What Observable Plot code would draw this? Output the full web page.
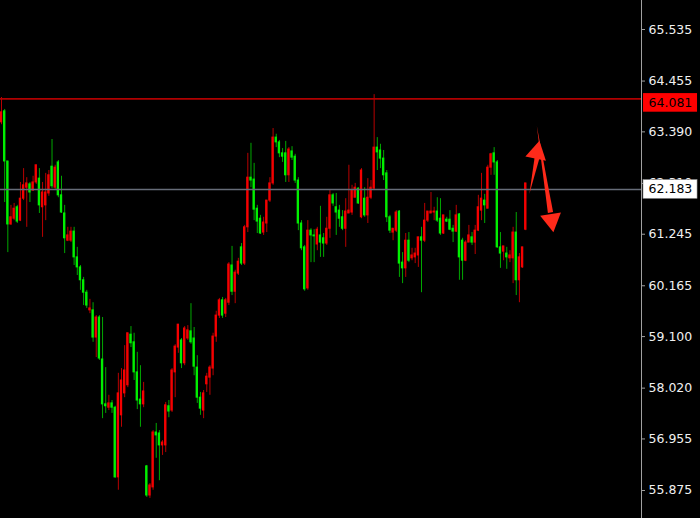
<!DOCTYPE html>
<html><head><meta charset="utf-8">
<script src="https://cdn.jsdelivr.net/npm/d3@7"></script>
<script src="https://cdn.jsdelivr.net/npm/@observablehq/plot@0.6"></script>
<style>html,body{margin:0;padding:0;background:#000;} #chart{width:700px;height:518px;overflow:hidden;background:#000}</style>
</head><body><div id="chart"></div>
<script>
const open = [63.80,62.77,61.45,61.60,61.78,61.51,61.99,62.27,62.31,62.12,62.33,62.69,61.85,62.12,62.12,62.48,62.25,62.64,62.06,61.70,
61.16,61.22,61.30,60.76,60.55,60.28,60.02,59.75,59.69,59.08,59.50,58.64,57.68,57.64,57.70,57.61,56.15,57.91,58.18,58.39,
59.17,58.96,58.35,57.76,57.68,57.95,55.77,55.98,57.09,57.03,56.82,56.88,57.66,57.53,58.39,58.89,59.35,58.54,59.27,59.23,
58.98,58.47,57.82,57.59,57.91,58.26,58.45,59.10,59.54,59.86,59.54,59.86,60.61,60.04,60.44,60.67,60.63,61.39,62.43,62.37,
61.76,61.51,61.26,61.49,61.95,62.31,63.27,63.17,62.94,62.87,62.48,63.02,62.85,62.37,61.47,60.95,60.09,61.32,61.22,61.20,
61.34,61.07,61.05,61.36,62.06,61.89,61.70,61.57,61.36,61.72,61.74,62.16,62.22,61.89,62.58,61.64,62.01,62.22,63.06,62.96,
62.83,62.48,61.60,61.32,61.36,61.70,60.63,60.53,61.11,60.69,60.80,60.84,61.18,61.11,61.53,61.72,61.72,61.72,61.53,61.26,
61.64,61.51,61.34,61.30,61.64,60.76,60.69,61.07,61.22,61.07,61.32,61.81,61.99,61.85,62.64,62.92,62.75,60.97,60.84,60.99,
60.76,60.80,61.28,60.28,60.76,60.97,62.31];
const high = [64.11,63.86,62.77,61.85,61.89,61.85,62.33,62.62,62.43,62.33,62.46,62.69,62.62,62.33,62.52,62.58,63.23,62.69,62.79,62.46,
61.85,61.39,61.39,61.39,60.97,60.59,60.34,60.07,59.88,59.81,59.54,59.54,59.50,58.45,57.87,57.76,57.64,58.33,58.43,58.91,
59.17,59.31,59.17,58.77,58.49,58.14,56.40,56.02,57.13,57.28,57.13,56.92,57.72,57.76,58.43,58.93,59.35,59.06,59.31,59.33,
59.79,59.29,58.70,57.93,57.97,58.33,58.49,59.17,59.63,59.90,59.92,59.90,60.65,60.99,60.49,60.74,61.05,61.43,62.94,63.15,
62.73,61.85,61.64,61.60,61.95,62.43,63.46,63.34,63.21,63.04,63.19,63.06,63.08,62.92,62.43,61.53,61.01,61.53,61.36,61.34,
61.39,61.83,61.26,61.60,62.16,62.10,62.10,61.85,61.74,61.99,62.69,62.27,62.31,62.22,62.62,62.22,62.41,62.37,64.17,63.27,
63.13,63.00,62.58,61.64,61.36,61.74,61.74,60.86,61.26,61.28,60.95,60.95,61.18,61.39,61.89,61.72,62.12,61.81,62.01,61.99,
61.64,61.60,61.74,61.43,61.85,61.68,61.16,61.11,61.43,61.28,61.43,62.06,62.52,62.08,62.69,62.94,63.06,62.79,61.28,60.99,
60.97,60.90,61.39,61.70,60.84,60.97,62.31];
const low = [63.54,61.91,60.86,61.43,61.53,61.47,61.51,61.95,61.39,61.91,62.14,62.29,61.68,61.18,61.53,62.04,62.20,62.18,62.01,61.68,
60.84,61.09,61.07,60.59,60.38,60.07,59.75,59.69,59.58,58.98,58.66,58.60,57.38,57.49,57.55,57.49,56.13,55.88,57.20,57.82,
58.03,58.87,58.18,57.57,57.20,57.61,55.73,55.71,55.88,56.55,56.08,56.61,56.67,57.40,57.51,57.82,58.75,58.43,58.49,59.02,
58.94,58.28,57.70,57.45,57.38,57.93,57.87,58.28,58.98,59.48,59.48,59.50,59.75,59.96,59.79,60.38,60.59,60.59,61.28,62.22,
61.53,61.26,61.24,61.22,61.28,61.91,62.27,63.06,62.85,62.75,62.33,62.33,62.79,62.31,61.32,60.90,60.05,60.07,60.65,60.65,
60.90,60.76,60.76,61.01,61.16,61.83,61.22,61.39,61.32,60.97,61.68,61.64,62.01,61.87,61.57,61.60,61.47,61.97,62.16,62.58,
62.62,62.37,61.49,61.26,61.11,61.28,60.34,60.21,60.34,60.65,60.69,60.63,60.55,60.02,61.07,61.49,61.68,61.53,61.49,61.22,
61.24,61.49,61.32,61.07,61.28,60.28,60.28,60.67,61.07,61.01,60.82,61.30,61.53,61.47,61.78,62.48,62.48,60.95,60.53,60.69,
60.51,60.65,60.21,59.96,59.81,60.53,61.32];
const close = [63.59,63.82,62.77,61.45,61.57,61.81,61.53,61.99,62.22,62.29,62.16,62.33,62.41,61.81,61.85,62.10,62.66,62.22,62.75,62.06,
61.68,61.11,61.11,61.30,60.76,60.55,60.28,60.02,59.65,59.65,59.08,59.50,58.62,57.68,57.61,57.70,57.61,56.15,57.45,57.91,
58.08,59.14,58.98,58.35,57.78,57.68,56.38,55.77,55.94,57.09,57.07,56.82,56.82,57.64,57.55,58.35,58.87,59.02,58.54,59.06,
59.21,59.06,58.45,57.82,57.55,58.10,58.24,58.43,59.10,59.54,59.86,59.58,59.81,60.59,60.04,60.42,60.97,60.63,61.39,62.43,
62.39,61.78,61.57,61.28,61.47,61.95,62.31,63.27,63.17,62.94,62.94,62.48,62.98,62.87,62.37,61.47,60.97,60.11,61.32,61.22,
61.03,61.22,61.16,61.05,61.36,62.06,61.81,61.74,61.60,61.36,61.68,61.70,62.01,62.20,61.60,61.99,61.64,62.01,62.20,63.06,
63.00,62.83,62.52,61.60,61.28,61.32,61.72,60.65,60.53,61.11,60.74,60.76,60.80,61.18,61.11,61.53,61.68,61.70,61.72,61.57,
61.26,61.55,61.55,61.36,61.30,61.66,61.11,60.69,61.07,61.18,61.07,61.32,61.74,61.95,61.78,62.64,62.94,62.75,60.97,60.88,
60.84,60.74,60.74,61.28,60.28,60.55,61.34];

const yTicks = [65.535, 64.455, 63.390, 62.310, 61.245, 60.165, 59.100, 58.020, 56.955, 55.875];
const resistanceLevel = [64.081];
const lastPriceLevel = [62.183];
// hand-drawn red arrows (bar index, price, direction in degrees)
const arrowHeads = [{i: 169.54, p: 62.955, dir: 12}, {i: 174.16, p: 61.539, dir: 171}];
const arrowShafts = [{i: 169.73, p: 62.895, dir: 192, len: 39}, {i: 173.84, p: 61.70, dir: 351, len: 88}];

const candles = open.map((o, i) => ({i, open: o, high: high[i], low: low[i], close: close[i], up: close[i] > o}));
const upC = candles.filter(d => d.up), dnC = candles.filter(d => !d.up);

const GREEN = "#00f000", RED = "#f50000", GREEN_W = "#00a800", RED_W = "#b80000";
const bodyHalf = 0.37;
const fmt = d3.format(".3f");
const labelX1 = 203.3, labelX2 = 220.4, labelTextX = 204.9, halfH = 0.195;

const bodyMark = (data, fill) => Plot.rect(data, {
  x1: d => d.i - bodyHalf, x2: d => d.i + bodyHalf,
  y1: d => Math.min(d.open, d.close), y2: d => Math.max(d.open, d.close),
  fill, insetTop: -0.5, insetBottom: -0.5
});

const chart = Plot.plot({
  width: 700, height: 518,
  marginLeft: 0, marginRight: 59, marginTop: 0, marginBottom: 0,
  style: {background: "#000", color: "#f0f0f0", fontFamily: "DejaVu Sans", fontSize: "12.5px", overflow: "visible"},
  x: {domain: [-0.317, 202.66], axis: null},
  y: {domain: [55.288, 66.143], axis: null},
  marks: [
    Plot.ruleX(upC, {x: "i", y1: "low", y2: "high", stroke: GREEN_W, strokeWidth: 1}),
    Plot.ruleX(dnC, {x: "i", y1: "low", y2: "high", stroke: RED_W, strokeWidth: 1}),
    bodyMark(upC, GREEN),
    bodyMark(dnC, RED),
    Plot.ruleY(resistanceLevel, {stroke: "#b00000", strokeWidth: 1.6}),
    Plot.ruleY(lastPriceLevel, {stroke: "#666c78", strokeWidth: 1.6}),
    ...arrowShafts.map(a => Plot.vector([a], {x: "i", y: "p", rotate: a.dir, length: a.len, shape: "spike", anchor: "start", r: 2.6, fill: "#ff2a1a", stroke: "none"})),
    Plot.dot(arrowHeads, {x: "i", y: "p", rotate: "dir", symbol: "triangle", r: 7.8, fill: "#ff2a1a", stroke: "none"}),
    Plot.ruleX([202.66], {stroke: "#a0a0a0", strokeWidth: 1}),
    Plot.axisY({anchor: "right", ticks: yTicks, tickFormat: fmt, tickSize: 3, tickPadding: 4, stroke: "#a0a0a0", fill: "#f0f0f0"}),
    Plot.rect(resistanceLevel, {x1: labelX1, x2: labelX2, y1: d => d + halfH, y2: d => d - halfH, fill: "#ff0000", dy: 4}),
    Plot.text(resistanceLevel, {x: labelTextX, y: d => d, text: fmt, textAnchor: "start", fill: "#000", dy: 4}),
    Plot.rect(lastPriceLevel, {x1: labelX1, x2: labelX2, y1: d => d + halfH, y2: d => d - halfH, fill: "#ffffff", stroke: "#9a9a9a", strokeWidth: 0.6}),
    Plot.text(lastPriceLevel, {x: labelTextX, y: d => d, text: fmt, textAnchor: "start", fill: "#000"})
  ]
});
document.getElementById("chart").appendChild(chart);
</script>
</body></html>
